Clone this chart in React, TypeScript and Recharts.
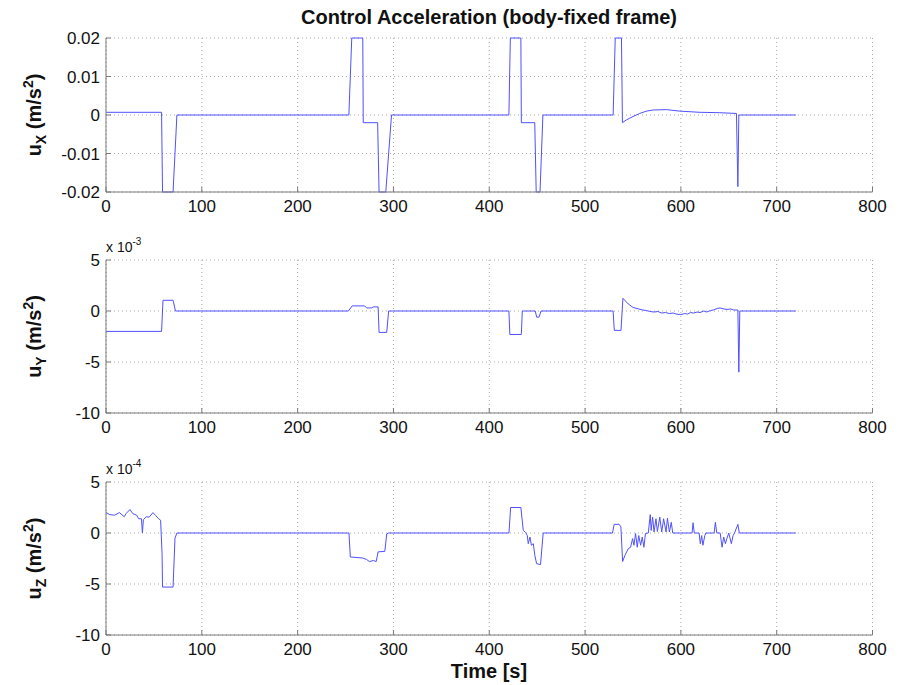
import { CartesianGrid, Line, LineChart, XAxis, YAxis } from "recharts";

const timeTicks = [0, 100, 200, 300, 400, 500, 600, 700, 800];

// u_X (m/s^2)
const uxTime = [0, 58, 59, 70, 74, 253.5, 256.5, 268, 268.5, 283.5, 285, 292, 298, 420.5, 422, 433, 433.5, 447.5, 449, 453, 456, 529.3, 531.5, 538, 539, 543, 550, 557, 564, 571, 585, 599, 620, 640, 658, 659.5, 660.5, 720];
const uxValue = [0.0007, 0.0007, -0.02, -0.02, 0, 0, 0.02, 0.02, -0.002, -0.002, -0.02, -0.02, 0, 0, 0.02, 0.02, -0.002, -0.002, -0.02, -0.02, 0, 0, 0.02, 0.02, -0.002, -0.0013, -0.0004, 0.0004, 0.001, 0.0013, 0.0014, 0.001, 0.0007, 0.0006, 0.0004, -0.0186, 0, 0];
const uxTicks = [-0.02, -0.01, 0, 0.01, 0.02];

// u_Y (x 10^-3 m/s^2)
const uyTime = [0, 58, 59.5, 70, 72.5, 253, 257, 270, 272, 277, 279, 284, 285, 293, 295, 420.5, 421.5, 433.5, 434.5, 448, 449.5, 452, 454, 529.3, 530.5, 537.5, 539.5, 545, 550, 556, 560, 564, 568, 572, 576, 580, 584, 588, 592, 595, 600, 604, 607, 610, 613, 617, 620, 624, 627, 631, 634, 638, 641, 645, 648, 652, 655, 659.5, 660.5, 661.5, 720];
const uyValue = [-2, -2, 1.05, 1.05, 0, 0, 0.5, 0.5, 0.3, 0.3, 0.4, 0.4, -2.1, -2.1, 0, 0, -2.3, -2.3, 0, 0, -0.6, -0.6, 0, 0, -1.9, -1.9, 1.25, 0.7, 0.35, 0.2, 0.1, 0.05, -0.05, -0.1, -0.05, -0.2, -0.15, -0.25, -0.2, -0.3, -0.35, -0.25, -0.3, -0.15, -0.2, -0.1, -0.15, 0, -0.1, 0.05, 0.1, 0.25, 0.3, 0.2, 0.15, 0.2, 0.1, 0.1, -6, 0, 0];
const uyTicks = [-10, -5, 0, 5];

// u_Z (x 10^-4 m/s^2)
const uzTime = [0, 4, 9, 14, 19, 21, 25, 28, 32, 34, 37, 38, 39, 42, 45, 49, 52, 55, 57, 58.5, 59, 70, 72, 74, 253.6, 255, 268, 272, 275, 279, 282, 284, 291, 293, 295, 420.6, 422.3, 433, 435.5, 438, 439.7, 440.7, 442.5, 444, 446, 447.6, 449.4, 453.5, 456.3, 528.6, 530.4, 535.6, 537.4, 539.2, 541.6, 545, 547.5, 549.6, 551, 552.7, 554.5, 556, 558, 559.7, 561.4, 563, 566, 568, 569, 570.5, 572, 574, 575.5, 578, 580, 582, 584.5, 586, 588, 590, 591.5, 611.7, 612.7, 614, 619, 620.3, 621.7, 623, 625, 626, 634.7, 636, 637.5, 641, 643, 644.7, 646.5, 648, 650, 652.7, 654.5, 656, 659.5, 661, 720];
const uzValue = [2.0, 1.8, 1.75, 2.0, 1.6, 1.9, 2.3, 1.9, 1.75, 1.4, 1.4, 0, 1.3, 1.6, 1.55, 2.0, 1.7, 1.4, 1.25, -2.0, -5.3, -5.3, -0.5, 0, 0, -2.35, -2.45, -2.6, -2.8, -2.7, -2.8, -1.85, -1.8, -0.1, 0, 0, 2.5, 2.5, 0.25, 0.05, -0.25, -1.05, -0.4, -1.2, -1.05, -2.2, -3.0, -3.1, 0, 0, 0.85, 0.85, 0.6, -2.8, -2.2, -1.55, -1.4, -0.55, -1.2, -0.05, -1.4, -0.25, -1.2, -0.4, -1.4, -0.05, 0, 1.8, 0.25, 1.55, 0.1, 1.4, 0.15, 1.55, 0.1, 1.4, 0.1, 1.45, 0.1, 1.05, 0, 0, 1.0, 0, 0, -1.05, -0.25, -1.2, -0.25, 0, 0, 1.05, 0, 0, -1.4, -0.4, -1.05, -0.55, 0, -1.05, -0.25, 0, 0.85, 0, 0];
const uzTicks = [-10, -5, 0, 5];

const zip = (t: number[], v: number[]) => t.map((time, i) => ({ time, value: v[i] }));

const FONT = "'Liberation Sans', Arial, Helvetica, sans-serif";
const FRAME = "#7a7a7a";
const LINE = "#5050ff";

interface PanelProps {
  top: number;
  plotHeight: number;
  data: { time: number; value: number }[];
  ticks: number[];
  sub: string;
  exponent?: string;
  title?: boolean;
  xLabel?: boolean;
}

function Panel({ top, plotHeight, data, ticks, sub, exponent, title, xLabel }: PanelProps) {
  const chartTop = top - 38;
  const height = 38 + plotHeight + 30 + 20;
  const mid = 38 + plotHeight / 2;
  const tickStyle = { fill: "#111", fontSize: 17, fontFamily: FONT };
  return (
    <div style={{ position: "absolute", left: 0, top: chartTop }}>
      <LineChart width={903} height={height} data={data} margin={{ top: 38, right: 30.5, bottom: 20, left: 0 }}>
        <CartesianGrid stroke="#a8a8a8" strokeDasharray="1 3" />
        <XAxis
          dataKey="time"
          type="number"
          domain={[0, 800]}
          ticks={timeTicks}
          interval={0}
          height={30}
          tickSize={-5}
          tickMargin={13}
          stroke={FRAME}
          tick={tickStyle}
        />
        <XAxis xAxisId="top" orientation="top" type="number" domain={[0, 800]} ticks={timeTicks} height={0} tickSize={-5} tick={false} stroke={FRAME} />
        <YAxis
          type="number"
          domain={[ticks[0], ticks[ticks.length - 1]]}
          ticks={ticks}
          interval={0}
          width={106}
          tickSize={-5}
          tickMargin={11}
          stroke={FRAME}
          tick={tickStyle}
        />
        <YAxis yAxisId="right" orientation="right" type="number" domain={[ticks[0], ticks[ticks.length - 1]]} ticks={ticks} width={0} tickSize={-5} tick={false} stroke={FRAME} />
        <Line dataKey="value" type="linear" stroke={LINE} strokeWidth={1} dot={false} isAnimationActive={false} />
        {title && (
          <text x={489} y={24} textAnchor="middle" fontFamily={FONT} fontSize={20} fontWeight="bold" fill="#111">
            Control Acceleration (body-fixed frame)
          </text>
        )}
        {exponent && (
          <text x={106} y={30} fontFamily={FONT} fontSize={14} fill="#111">
            x 10<tspan fontSize={10} dy={-7}>{exponent}</tspan>
          </text>
        )}
        <text transform={`translate(41, ${mid}) rotate(-90)`} textAnchor="middle" fontFamily={FONT} fontSize={20} fontWeight="bold" fill="#111">
          u<tspan fontSize={14} dy={5}>{sub}</tspan>
          <tspan dy={-5}> (m/s</tspan>
          <tspan fontSize={14} dy={-8}>2</tspan>
          <tspan dy={8}>)</tspan>
        </text>
        {xLabel && (
          <text x={489} y={height - 7} textAnchor="middle" fontFamily={FONT} fontSize={20} fontWeight="bold" fill="#111">
            Time [s]
          </text>
        )}
      </LineChart>
    </div>
  );
}

export default function App() {
  return (
    <div style={{ position: "absolute", left: 0, top: 0, width: 903, height: 685, overflow: "hidden", background: "#fff" }}>
      <Panel top={38} plotHeight={154} data={zip(uxTime, uxValue)} ticks={uxTicks} sub="X" title />
      <Panel top={260} plotHeight={153} data={zip(uyTime, uyValue)} ticks={uyTicks} sub="Y" exponent="-3" />
      <Panel top={482} plotHeight={153} data={zip(uzTime, uzValue)} ticks={uzTicks} sub="Z" exponent="-4" xLabel />
    </div>
  );
}
